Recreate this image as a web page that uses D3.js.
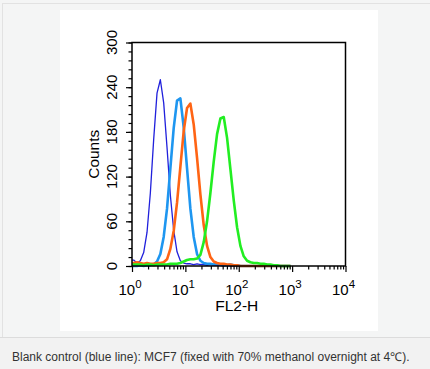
<!DOCTYPE html>
<html><head><meta charset="utf-8">
<script src="https://cdn.jsdelivr.net/npm/d3@7"></script>
<style>
html,body{margin:0;padding:0;background:#f4f5f5;}
svg{display:block;}
</style></head>
<body>
<svg id="c" width="430" height="369"></svg>
<script>
// ---- data (counts per channel bin, 16 bins per decade starting at 10^0) ----
const binsPerDecade = 16;
const darkBlue = [8,4,7,18,45,98,170,232,250,219,159,95,48,19,7,4,3,3,2,3,2,2,1,2,1,1,1,0,1,0,0,0,0,0,0,0,0,0,0,0,0,0,0,0,0,0,0,0];
const lightBlue = [0,0,1,0,1,1,2,6,16,39,77,131,185,222,225,186,131,77,39,16,7,4,3,3,2,3,2,2,1,2,1,1,0,0,0,0,0,0,0,0,0,0,0,0,0,0,0,0];
const orange = [4,5,4,3,4,3,3,4,4,5,9,23,47,85,133,181,212,218,190,145,96,55,27,12,6,4,3,3,2,2,1,1,0,0,0,0,0,0,0,0,0,0,0,0,0,0,0,0];
const green = [2,2,2,1,2,2,1,2,2,2,2,3,3,3,4,6,8,9,9,10,15,32,60,98,140,177,198,200,172,130,88,52,27,13,7,5,4,4,3,3,2,2,1,1,0,0,0,0];
const seriesNames = ["Blank control","Series 2","Series 3","Series 4"];
const seriesColors = ["#2020dc","#1e96f0","#ff6414","#22ee22"];
const seriesWidths = [1.3,2.6,2.6,2.6];
const yMajorTicks = [0,60,120,180,240,300];
const xMajorTicks = [1,10,100,1000,10000];
const xExponents = ["0","1","2","3","4"];
const yTitle = "Counts";
const xTitle = "FL2-H";
const caption = "Blank control (blue line): MCF7 (fixed with 70% methanol overnight at 4\u2103).";

const FONT = "Arial, 'Liberation Sans', sans-serif";
const svg = d3.select("#c");
// page decorations
svg.append("rect").attr("x",0).attr("y",0).attr("width",430).attr("height",369).attr("fill","#f4f5f5");
svg.append("line").attr("x1",2).attr("x2",430).attr("y1",3.5).attr("y2",3.5).attr("stroke","#e2e2e2");
svg.append("line").attr("x1",2.5).attr("x2",2.5).attr("y1",3).attr("y2",337).attr("stroke","#e2e2e2");
svg.append("rect").attr("x",60).attr("y",10).attr("width",318).attr("height",321).attr("fill","#ffffff");
svg.append("rect").attr("x",0).attr("y",337).attr("width",430).attr("height",32).attr("fill","#f2f2f2");
svg.append("line").attr("x1",0).attr("x2",430).attr("y1",337.5).attr("y2",337.5).attr("stroke","#dcdcdc");
svg.append("text").attr("x",12).attr("y",361).attr("font-family",FONT)
  .attr("font-size",12).attr("fill","#333").text(caption);

// scales
const x = d3.scaleLog().domain([1,10000]).range([132,345.5]);
const y = d3.scaleLinear().domain([0,300]).range([266,42.5]);

// histograms (drawn through bin centres)
const g = svg.append("g");
const line = d3.line().x(d=>x(d[0])).y(d=>y(d[1])).curve(d3.curveLinear);
[darkBlue,lightBlue,orange,green].forEach((arr,k)=>{
  const pts = [[1, arr[0]]].concat(arr.map((v,i)=>[Math.pow(10,(i+0.5)/binsPerDecade), v]));
  g.append("path").attr("d",line(pts)).attr("fill","none")
    .attr("stroke",seriesColors[k]).attr("stroke-width",seriesWidths[k])
    .attr("stroke-linejoin","round");
});

// frame
svg.append("rect").attr("x",x(1)).attr("y",y(300)).attr("width",x(10000)-x(1)).attr("height",y(0)-y(300))
  .attr("fill","none").attr("stroke","#000").attr("stroke-width",1.5);

// y axis ticks
const yMinor = d3.range(0,301,12);
const yAxMinor = d3.axisLeft(y).tickValues(yMinor).tickSize(3.5).tickFormat("");
const yAxMajor = d3.axisLeft(y).tickValues(yMajorTicks).tickSize(6).tickFormat("");
[yAxMinor,yAxMajor].forEach(ax=>{
  const a = svg.append("g").attr("transform",`translate(${x(1)},0)`).call(ax);
  a.select(".domain").remove();
  a.selectAll("line").attr("stroke","#000").attr("stroke-width",1.2);
});
// y tick labels rotated
svg.append("g").selectAll("text").data(yMajorTicks).join("text")
  .attr("transform",d=>`translate(117,${y(d)}) rotate(-90)`)
  .attr("text-anchor","middle").attr("font-family",FONT)
  .attr("font-size",15).attr("fill","#000").text(d=>d);
svg.append("text").attr("transform",`translate(99,${y(150)}) rotate(-90)`)
  .attr("text-anchor","middle").attr("font-family",FONT)
  .attr("font-size",15.5).attr("fill","#000").text(yTitle);

// x axis ticks
const xMinor = [];
for (let d=1; d<10000; d*=10) for (let m=2;m<=9;m++) xMinor.push(d*m);
const xAxMinor = d3.axisBottom(x).tickValues(xMinor).tickSize(3.5).tickFormat("");
const xAxMajor = d3.axisBottom(x).tickValues(xMajorTicks).tickSize(6).tickFormat("");
[xAxMinor,xAxMajor].forEach(ax=>{
  const a = svg.append("g").attr("transform",`translate(0,${y(0)})`).call(ax);
  a.select(".domain").remove();
  a.selectAll("line").attr("stroke","#000").attr("stroke-width",1.2);
});
const xl = svg.append("g").selectAll("text").data(xMajorTicks).join("text")
  .attr("x",d=>x(d)-2).attr("y",295).attr("text-anchor","middle")
  .attr("font-family",FONT).attr("font-size",15).attr("fill","#000");
xl.append("tspan").text("10");
xl.append("tspan").attr("dy",-7).attr("font-size",11.5).text((d,i)=>xExponents[i]);
svg.append("text").attr("x",x(100)-2).attr("y",311).attr("text-anchor","middle")
  .attr("font-family",FONT).attr("font-size",15.5).attr("fill","#000").text(xTitle);
</script>
</body></html>
